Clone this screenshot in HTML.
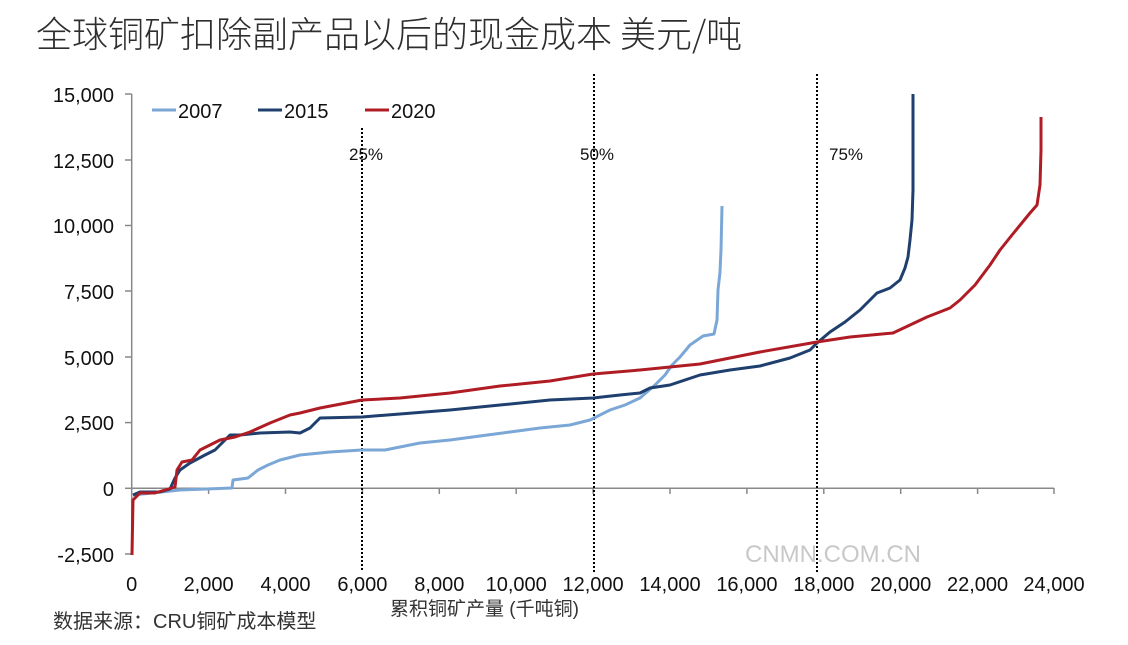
<!DOCTYPE html>
<html><head><meta charset="utf-8"><style>
body{margin:0;background:#fff;width:1128px;height:640px;overflow:hidden}
svg text{font-family:"Liberation Sans","Noto Sans CJK SC",sans-serif}
</style></head><body>
<svg width="1128" height="640" viewBox="0 0 1128 640" xmlns="http://www.w3.org/2000/svg">
<text x="36" y="47" font-size="36" fill="#2e2e2e" style="font-family:'Noto Sans CJK SC','WenQuanYi Zen Hei',sans-serif;font-weight:300">全球铜矿扣除副产品以后的现金成本 美元/吨</text>
<g stroke="#888" stroke-width="1.5" fill="none">
<line x1="131.7" y1="94" x2="131.7" y2="554"/>
<line x1="131.7" y1="488.3" x2="1054" y2="488.3"/>
<line x1="125" y1="94" x2="131.7" y2="94"/><line x1="125" y1="160" x2="131.7" y2="160"/><line x1="125" y1="225.5" x2="131.7" y2="225.5"/><line x1="125" y1="291" x2="131.7" y2="291"/><line x1="125" y1="357" x2="131.7" y2="357"/><line x1="125" y1="422.6" x2="131.7" y2="422.6"/><line x1="125" y1="488.3" x2="131.7" y2="488.3"/><line x1="125" y1="554" x2="131.7" y2="554"/>
<g>
<line x1="208.6" y1="488" x2="208.6" y2="494"/><line x1="285.5" y1="488" x2="285.5" y2="494"/><line x1="362.4" y1="488" x2="362.4" y2="494"/><line x1="439.3" y1="488" x2="439.3" y2="494"/><line x1="516.2" y1="488" x2="516.2" y2="494"/><line x1="593.1" y1="488" x2="593.1" y2="494"/><line x1="670" y1="488" x2="670" y2="494"/><line x1="746.9" y1="488" x2="746.9" y2="494"/><line x1="823.8" y1="488" x2="823.8" y2="494"/><line x1="900.7" y1="488" x2="900.7" y2="494"/><line x1="977.6" y1="488" x2="977.6" y2="494"/><line x1="1054" y1="488" x2="1054" y2="494"/>
</g></g>
<g font-size="20" fill="#111" text-anchor="end">
<text x="114" y="102">15,000</text><text x="114" y="168">12,500</text><text x="114" y="233">10,000</text><text x="114" y="299">7,500</text><text x="114" y="365">5,000</text><text x="114" y="430">2,500</text><text x="114" y="496">0</text><text x="114" y="562">-2,500</text>
</g>
<g font-size="20" fill="#111" text-anchor="middle">
<text x="131.7" y="591">0</text><text x="208.6" y="591">2,000</text><text x="285.5" y="591">4,000</text><text x="362.4" y="591">6,000</text><text x="439.3" y="591">8,000</text><text x="516.2" y="591">10,000</text><text x="593.1" y="591">12,000</text><text x="670" y="591">14,000</text><text x="746.9" y="591">16,000</text><text x="823.8" y="591">18,000</text><text x="900.7" y="591">20,000</text><text x="977.6" y="591">22,000</text><text x="1054" y="591">24,000</text>
</g>
<text x="745" y="562" font-size="24" fill="#bbb" opacity="0.8">CNMN.COM.CN</text>
<text x="390" y="615" font-size="19" fill="#333">累积铜矿产量 (千吨铜)</text>
<text x="53" y="628" font-size="20" fill="#333">数据来源：CRU铜矿成本模型</text>
<g stroke="#000" stroke-width="2" stroke-dasharray="2,2">
<line x1="362" y1="128" x2="362" y2="572"/><line x1="594" y1="74" x2="594" y2="572"/><line x1="817" y1="74" x2="817" y2="572"/>
</g>
<g font-size="17" fill="#111"><text x="349" y="160">25%</text><text x="580" y="160">50%</text><text x="829" y="160">75%</text></g>
<g stroke-width="3" fill="none" stroke-linejoin="round">
<polyline stroke="#7ba7d7" points="133,495 180,490 232,488 233,480 248,478 258,470 268,465 280,460 300,455 330,452 362,450 385,450 400,447 420,443 450,440 480,436 510,432 540,428 570,425 590,420 610,410 625,405 640,398 655,385 665,375 672,365 680,357 690,345 703,336 714,334 717,320 718,290 720,272 721,250 722,206"/>
<polyline stroke="#1f3f6e" points="133,495 140,492 160,492 170,489 175,478 180,470 190,463 205,455 215,450 225,440 230,435 240,435 260,433 290,432 300,433 310,428 320,418 362,417 400,414 450,410 500,405 550,400 593,398 620,395 640,393 650,388 670,385 700,375 730,370 760,366 790,358 810,350 817,343 830,332 845,322 860,310 877,293 890,288 900,280 905,268 908,257 910,240 912,220 913,190 913,94"/>
<polyline stroke="#b01c24" points="132,555 133,500 140,493 155,493 165,490 175,487 177,470 182,462 192,460 200,450 210,445 220,440 235,437 250,432 270,423 290,415 300,413 320,408 362,400 400,398 450,393 500,386 550,381 593,374 640,370 700,364 760,352 817,342 850,337 893,333 927,317 950,308 960,300 975,285 990,265 1000,250 1012,235 1030,213 1037,205 1040,185 1041,150 1041,117"/>
</g>
<g stroke-width="3"><line x1="152" y1="110" x2="176" y2="110" stroke="#7ba7d7"/><line x1="258" y1="110" x2="282" y2="110" stroke="#1f3f6e"/><line x1="365" y1="110" x2="389" y2="110" stroke="#b01c24"/></g>
<g font-size="20" fill="#111"><text x="178" y="118">2007</text><text x="284" y="118">2015</text><text x="391" y="118">2020</text></g>
</svg>
</body></html>
